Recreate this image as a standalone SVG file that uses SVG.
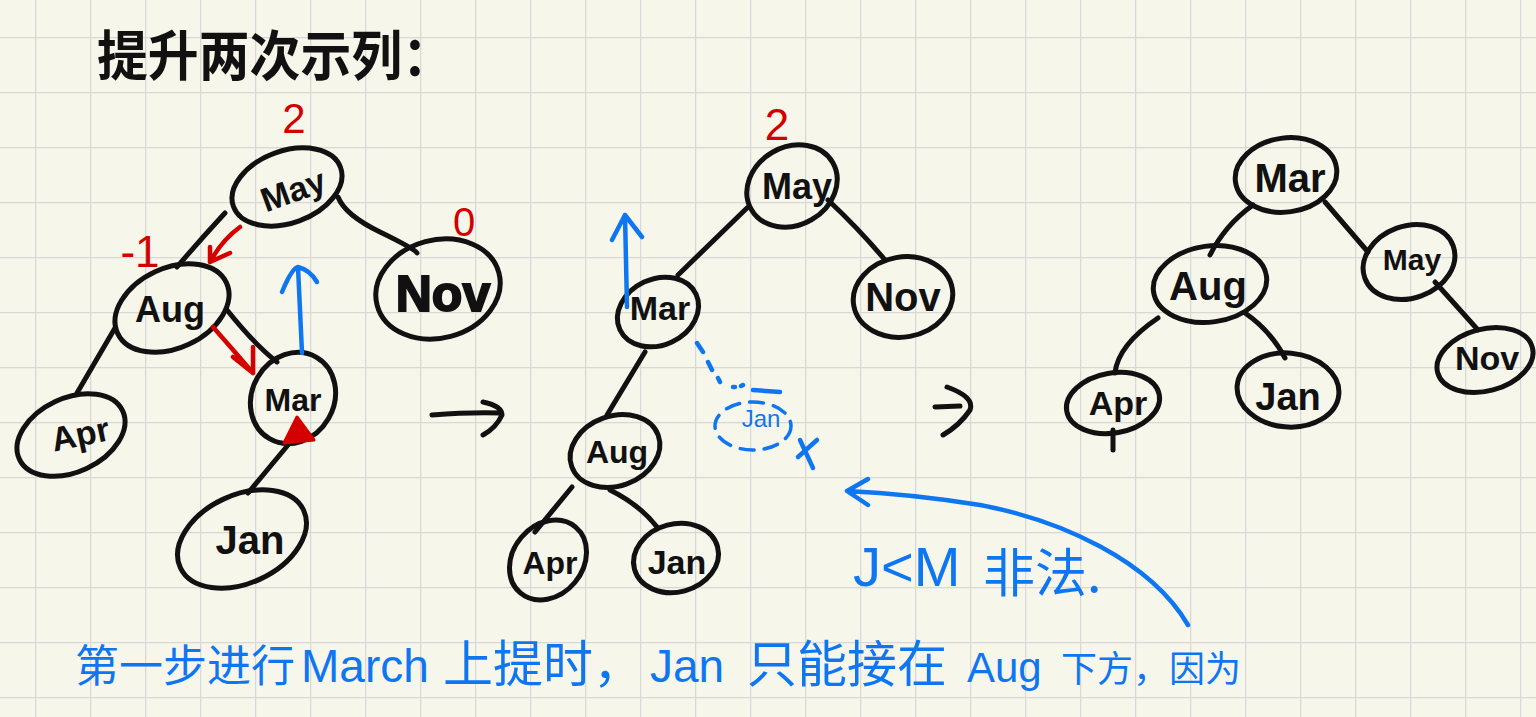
<svg xmlns="http://www.w3.org/2000/svg" width="1536" height="717" viewBox="0 0 1536 717">
<style>
.nd{fill:none;stroke:#111;stroke-width:5}
.lb{font-family:"Liberation Sans",Arial,sans-serif;font-weight:700;fill:#111;text-anchor:middle}
.ed{fill:none;stroke:#111;stroke-width:5;stroke-linecap:round;stroke-linejoin:round}
.rd{fill:none;stroke:#d40000;stroke-width:4.5;stroke-linecap:round;stroke-linejoin:round}
.bl{fill:none;stroke:#0f76f2;stroke-width:4.5;stroke-linecap:round;stroke-linejoin:round}
.rt{font-family:"Liberation Sans",Arial,sans-serif;fill:#d40000;text-anchor:middle}
.bt{font-family:"Liberation Sans","Noto Sans CJK SC",sans-serif;fill:#0f76f2}
.cjk{font-family:"Noto Sans CJK SC",sans-serif}
</style>
<defs>
<pattern id="grid" x="35" y="37" width="55" height="55" patternUnits="userSpaceOnUse">
<path d="M0,0 H55 M0,0 V55" fill="none" stroke="#d8d8d6" stroke-width="2.5"/>
</pattern>
</defs>
<rect width="1536" height="717" fill="#f7f6ea"/>
<rect width="1536" height="717" fill="url(#grid)"/>

<text x="97" y="76" font-size="54" textLength="356" lengthAdjust="spacingAndGlyphs" class="cjk" fill="#111" font-weight="700">提升两次示列：</text>

<g id="connectors">
<path class="ed" d="M225,213 Q200,240 177,267"/>
<path class="ed" d="M338,197 Q345,215 380,232 T417,253"/>
<path class="ed" d="M115,328 L77,393"/>
<path class="ed" d="M227,310 Q255,345 277,362"/>
<path class="ed" d="M288,445 L248,493"/>
<path class="ed" d="M747,208 L678,275"/>
<path class="ed" d="M828,200 Q860,230 885,260"/>
<path class="ed" d="M645,352 L607,415"/>
<path class="ed" d="M572,487 L535,532"/>
<path class="ed" d="M610,490 Q640,505 657,527"/>
<path class="ed" d="M1253,205 Q1225,225 1210,255"/>
<path class="ed" d="M1325,202 L1368,252"/>
<path class="ed" d="M1435,282 L1478,330"/>
<path class="ed" d="M1158,318 Q1118,345 1115,373"/>
<path class="ed" d="M1245,313 Q1270,330 1285,358"/>
<path class="ed" d="M1113,430 L1113,450"/>
<path class="ed" d="M432,415 Q470,412 500,413 M483,402 Q502,406 502,415 Q496,428 483,435"/>
<path class="ed" d="M935,407 L960,406 M947,387 Q975,397 970,410 Q960,425 943,435"/>
</g>

<g id="t1-may"><ellipse class="nd" cx="287" cy="187" rx="57" ry="36" transform="rotate(-20 287 187)"/><text class="lb" x="293" y="202" font-size="34" transform="rotate(-20 293 190)">May</text></g>
<g id="t1-aug"><ellipse class="nd" cx="172" cy="308" rx="60" ry="40" transform="rotate(-25 172 308)"/><text class="lb" x="170" y="322" font-size="36">Aug</text></g>
<g id="t1-apr"><ellipse class="nd" cx="71" cy="435" rx="57" ry="37" transform="rotate(-25 71 435)"/><text class="lb" x="80" y="446" font-size="34" transform="rotate(-12 80 433)">Apr</text></g>
<g id="t1-mar"><ellipse class="nd" cx="293" cy="398" rx="47" ry="41" transform="rotate(-60 293 398)"/><text class="lb" x="293" y="411" font-size="32">Mar</text></g>
<g id="t1-jan"><ellipse class="nd" cx="242" cy="539" rx="68" ry="44" transform="rotate(-25 242 539)"/><text class="lb" x="250" y="554" font-size="40">Jan</text></g>
<g id="t1-nov"><ellipse class="nd" cx="438" cy="289" rx="63" ry="49" transform="rotate(-15 438 289)"/><text class="lb" x="443" y="311" font-size="50" font-weight="400" stroke="#111" stroke-width="2">Nov</text></g>

<g id="t2-may"><ellipse class="nd" cx="792" cy="186" rx="47" ry="39" transform="rotate(-30 792 186)"/><text class="lb" x="797" y="199" font-size="36">May</text></g>
<g id="t2-mar"><ellipse class="nd" cx="658" cy="312" rx="42" ry="33" transform="rotate(-25 658 312)"/><text class="lb" x="660" y="320" font-size="34">Mar</text></g>
<g id="t2-nov"><ellipse class="nd" cx="903" cy="297" rx="50" ry="40" transform="rotate(-10 903 297)"/><text class="lb" x="903" y="311" font-size="40">Nov</text></g>
<g id="t2-aug"><ellipse class="nd" cx="615" cy="451" rx="46" ry="35" transform="rotate(-20 615 451)"/><text class="lb" x="617" y="463" font-size="32">Aug</text></g>
<g id="t2-apr"><ellipse class="nd" cx="548" cy="560" rx="43" ry="35" transform="rotate(-50 548 560)"/><text class="lb" x="550" y="574" font-size="32">Apr</text></g>
<g id="t2-jan"><ellipse class="nd" cx="676" cy="558" rx="43" ry="34" transform="rotate(-15 676 558)"/><text class="lb" x="677" y="574" font-size="34">Jan</text></g>

<g id="t3-mar"><ellipse class="nd" cx="1286" cy="175" rx="51" ry="37" transform="rotate(-8 1286 175)"/><text class="lb" x="1290" y="192" font-size="40">Mar</text></g>
<g id="t3-may"><ellipse class="nd" cx="1409" cy="262" rx="47" ry="36" transform="rotate(-20 1409 262)"/><text class="lb" x="1412" y="270" font-size="30">May</text></g>
<g id="t3-nov"><ellipse class="nd" cx="1485" cy="360" rx="49" ry="31" transform="rotate(-15 1485 360)"/><text class="lb" x="1487" y="370" font-size="34">Nov</text></g>
<g id="t3-aug"><ellipse class="nd" cx="1210" cy="284" rx="57" ry="38" transform="rotate(-8 1210 284)"/><text class="lb" x="1208" y="300" font-size="40">Aug</text></g>
<g id="t3-apr"><ellipse class="nd" cx="1113" cy="403" rx="47" ry="30" transform="rotate(-10 1113 403)"/><text class="lb" x="1118" y="415" font-size="34">Apr</text></g>
<g id="t3-jan"><ellipse class="nd" cx="1288" cy="390" rx="51" ry="37" transform="rotate(5 1288 390)"/><text class="lb" x="1288" y="410" font-size="38">Jan</text></g>

<g id="red-notes">
<text class="rt" x="294" y="133" font-size="42">2</text>
<text class="rt" x="464" y="236" font-size="40">0</text>
<text class="rt" x="140" y="267" font-size="44">-1</text>
<text class="rt" x="777" y="140" font-size="44">2</text>
<path class="rd" d="M240,227 Q222,240 210,262 M230,253 L210,262 L210,247"/>
<path class="rd" d="M213,327 Q235,352 253,373 M233,357 L253,373 L253,347"/>
<path d="M297,417 L314,440 L284,443 Z" fill="#d40000" stroke="#d40000" stroke-width="3" stroke-linejoin="round"/>
</g>

<g id="blue-notes">
<path class="bl" d="M302,353 Q300,310 298,267 M282,292 Q292,268 298,267 Q310,270 317,282"/>
<path class="bl" d="M627,307 L625,215 M612,240 L625,215 L642,237"/>
<path class="bl" d="M697,343 L703,352 M708,362 L712,370 M718,378 L720,382 M733,387 L735,387 M741,386 L743,385 M753,390 L780,392"/>
<ellipse cx="753" cy="426" rx="38" ry="24" fill="none" stroke="#0f76f2" stroke-width="3.5" stroke-dasharray="14 10" stroke-linecap="round"/>
<text class="bt" x="761" y="427" font-size="24" text-anchor="middle">Jan</text>
<path class="bl" d="M798,457 L817,440 M800,440 L813,468"/>
<path class="bl" d="M1188,625 C1150,560 1060,520 980,505 C930,497 890,493 847,491 M868,479 L847,491 L868,505"/>
<text class="bt" x="853" y="586" font-size="56">J&lt;M <tspan class="cjk" x="983" y="592" font-size="52">非法.</tspan></text>
</g>

<text class="bt" y="682" font-size="46"><tspan class="cjk" x="75" font-size="44">第一步进行</tspan><tspan x="301">March</tspan><tspan class="cjk" x="443" font-size="50">上提时，</tspan><tspan x="650">Jan</tspan><tspan class="cjk" x="747" font-size="50">只能接在</tspan><tspan x="967" font-size="42">Aug</tspan><tspan class="cjk" x="1061" font-size="36">下方，因为</tspan></text>
</svg>
